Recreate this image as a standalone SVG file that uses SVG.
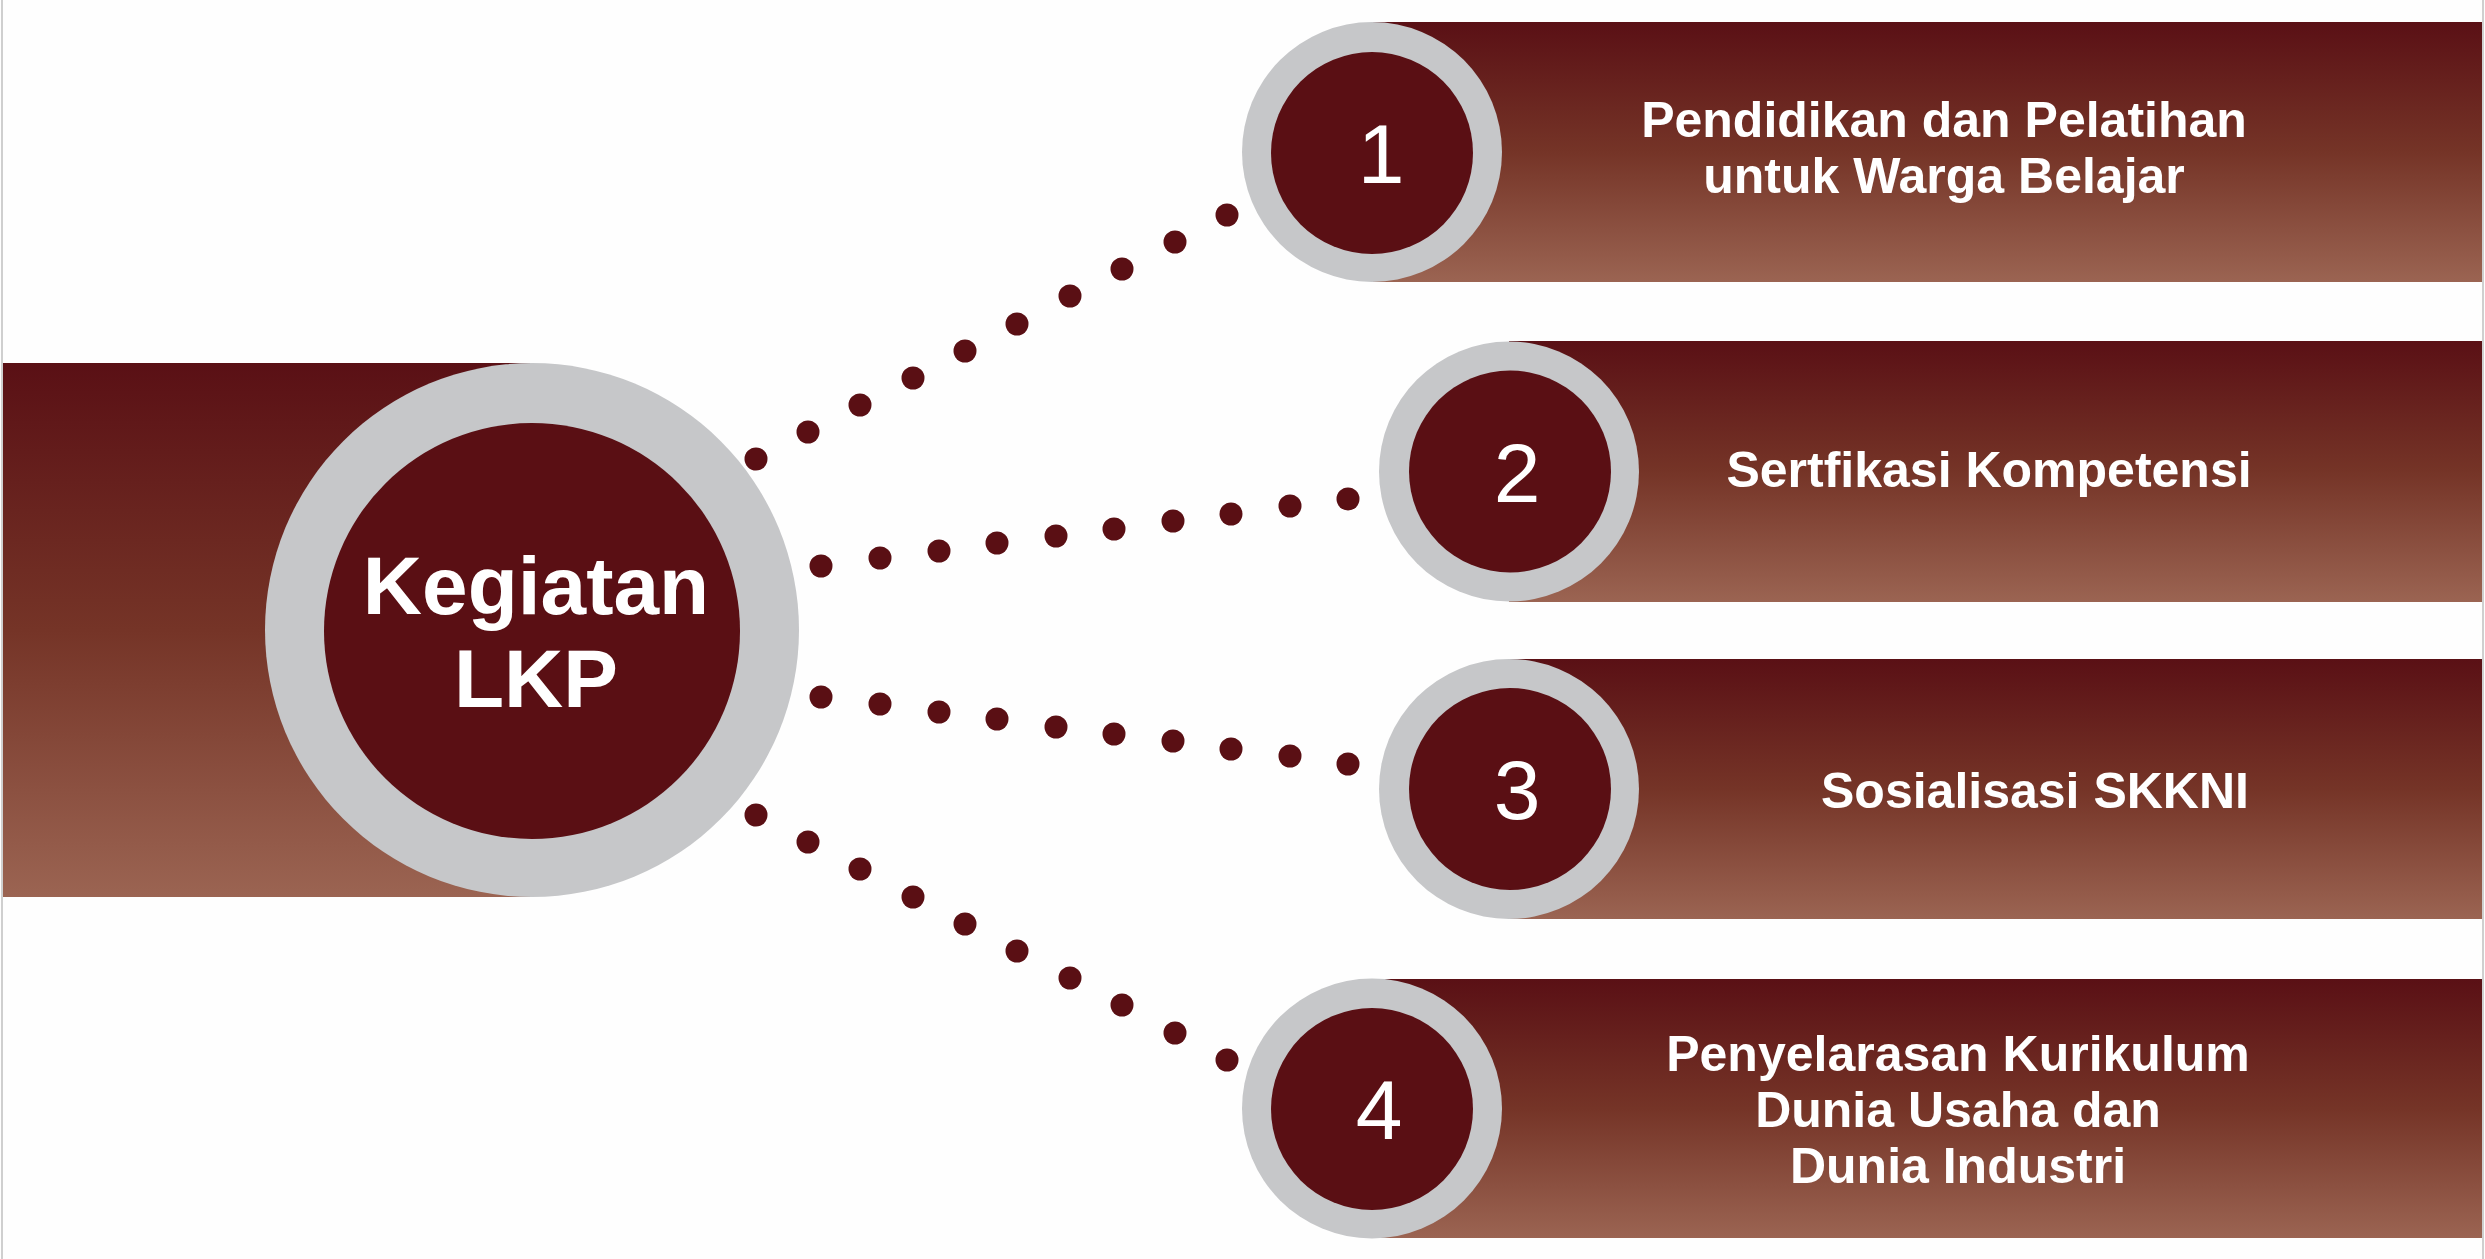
<svg xmlns="http://www.w3.org/2000/svg" width="2485" height="1259" viewBox="0 0 2485 1259">
  <defs>
    <linearGradient id="bandGrad" x1="0" y1="0" x2="0" y2="1">
      <stop offset="0" stop-color="#5a1015"/>
      <stop offset="0.5" stop-color="#753427"/>
      <stop offset="1" stop-color="#9b6452"/>
    </linearGradient>
    <style>
      .band { fill: url(#bandGrad); }
      .ring { fill: #c6c7c9; }
      .core { fill: #5a0f14; }
      .lbl { font-family: "Liberation Sans", Arial, sans-serif; font-weight: bold; font-size: 50px; fill: #ffffff; text-anchor: middle; }
      .num { font-family: "Liberation Sans", Arial, sans-serif; font-size: 84px; fill: #ffffff; text-anchor: middle; }
      .main { font-family: "Liberation Sans", Arial, sans-serif; font-weight: bold; font-size: 82px; fill: #ffffff; text-anchor: middle; }
      .dot { fill: #5a0f14; }
      .frame { stroke: #cfcfcf; stroke-width: 2; }
    </style>
  </defs>
  <rect x="0" y="0" width="2485" height="1259" fill="#fefefe"/>
  <line class="frame" x1="2" y1="0" x2="2" y2="1259"/>
  <line class="frame" x1="2483" y1="0" x2="2483" y2="1259"/>

  <g id="connectors">
    <g id="conn1">
      <circle class="dot" cx="756" cy="459" r="11.5"/>
      <circle class="dot" cx="808" cy="432" r="11.5"/>
      <circle class="dot" cx="860" cy="405" r="11.5"/>
      <circle class="dot" cx="913" cy="378" r="11.5"/>
      <circle class="dot" cx="965" cy="351" r="11.5"/>
      <circle class="dot" cx="1017" cy="324" r="11.5"/>
      <circle class="dot" cx="1070" cy="296" r="11.5"/>
      <circle class="dot" cx="1122" cy="269" r="11.5"/>
      <circle class="dot" cx="1175" cy="242" r="11.5"/>
      <circle class="dot" cx="1227" cy="215" r="11.5"/>
    </g>
    <g id="conn2">
      <circle class="dot" cx="821" cy="566" r="11.5"/>
      <circle class="dot" cx="880" cy="558" r="11.5"/>
      <circle class="dot" cx="939" cy="551" r="11.5"/>
      <circle class="dot" cx="997" cy="543" r="11.5"/>
      <circle class="dot" cx="1056" cy="536" r="11.5"/>
      <circle class="dot" cx="1114" cy="529" r="11.5"/>
      <circle class="dot" cx="1173" cy="521" r="11.5"/>
      <circle class="dot" cx="1231" cy="514" r="11.5"/>
      <circle class="dot" cx="1290" cy="506" r="11.5"/>
      <circle class="dot" cx="1348" cy="499" r="11.5"/>
    </g>
    <g id="conn3">
      <circle class="dot" cx="821" cy="697" r="11.5"/>
      <circle class="dot" cx="880" cy="704" r="11.5"/>
      <circle class="dot" cx="939" cy="712" r="11.5"/>
      <circle class="dot" cx="997" cy="719" r="11.5"/>
      <circle class="dot" cx="1056" cy="727" r="11.5"/>
      <circle class="dot" cx="1114" cy="734" r="11.5"/>
      <circle class="dot" cx="1173" cy="741" r="11.5"/>
      <circle class="dot" cx="1231" cy="749" r="11.5"/>
      <circle class="dot" cx="1290" cy="756" r="11.5"/>
      <circle class="dot" cx="1348" cy="764" r="11.5"/>
    </g>
    <g id="conn4">
      <circle class="dot" cx="756" cy="815" r="11.5"/>
      <circle class="dot" cx="808" cy="842" r="11.5"/>
      <circle class="dot" cx="860" cy="869" r="11.5"/>
      <circle class="dot" cx="913" cy="897" r="11.5"/>
      <circle class="dot" cx="965" cy="924" r="11.5"/>
      <circle class="dot" cx="1017" cy="951" r="11.5"/>
      <circle class="dot" cx="1070" cy="978" r="11.5"/>
      <circle class="dot" cx="1122" cy="1005" r="11.5"/>
      <circle class="dot" cx="1175" cy="1033" r="11.5"/>
      <circle class="dot" cx="1227" cy="1060" r="11.5"/>
    </g>
  </g>

  <g id="node-main">
    <rect class="band" x="3" y="363" width="529" height="534"/>
    <circle class="ring" cx="532" cy="630" r="267"/>
    <circle class="core" cx="532" cy="631" r="208"/>
    <text class="main" x="536" y="614">Kegiatan</text>
    <text class="main" x="536" y="707">LKP</text>
  </g>

  <g id="node-1">
    <rect class="band" x="1372" y="22" width="1110" height="260"/>
    <circle class="ring" cx="1372" cy="152" r="130"/>
    <circle class="core" cx="1372" cy="153" r="101"/>
    <text class="num" x="1381" y="183">1</text>
    <text class="lbl" x="1944" y="137">Pendidikan dan Pelatihan</text>
    <text class="lbl" x="1944" y="193">untuk Warga Belajar</text>
  </g>

  <g id="node-2">
    <rect class="band" x="1509" y="341" width="973" height="261"/>
    <circle class="ring" cx="1509" cy="471.5" r="130"/>
    <circle class="core" cx="1510" cy="471.5" r="101"/>
    <text class="num" x="1517" y="502">2</text>
    <text class="lbl" x="1989" y="487">Sertfikasi Kompetensi</text>
  </g>

  <g id="node-3">
    <rect class="band" x="1509" y="659" width="973" height="260"/>
    <circle class="ring" cx="1509" cy="789" r="130"/>
    <circle class="core" cx="1510" cy="789" r="101"/>
    <text class="num" x="1517" y="819">3</text>
    <text class="lbl" x="2035" y="808">Sosialisasi SKKNI</text>
  </g>

  <g id="node-4">
    <rect class="band" x="1372" y="979" width="1110" height="259"/>
    <circle class="ring" cx="1372" cy="1108.5" r="130"/>
    <circle class="core" cx="1372" cy="1109" r="101"/>
    <text class="num" x="1379" y="1139">4</text>
    <text class="lbl" x="1958" y="1071">Penyelarasan Kurikulum</text>
    <text class="lbl" x="1958" y="1127">Dunia Usaha dan</text>
    <text class="lbl" x="1958" y="1183">Dunia Industri</text>
  </g>
</svg>
